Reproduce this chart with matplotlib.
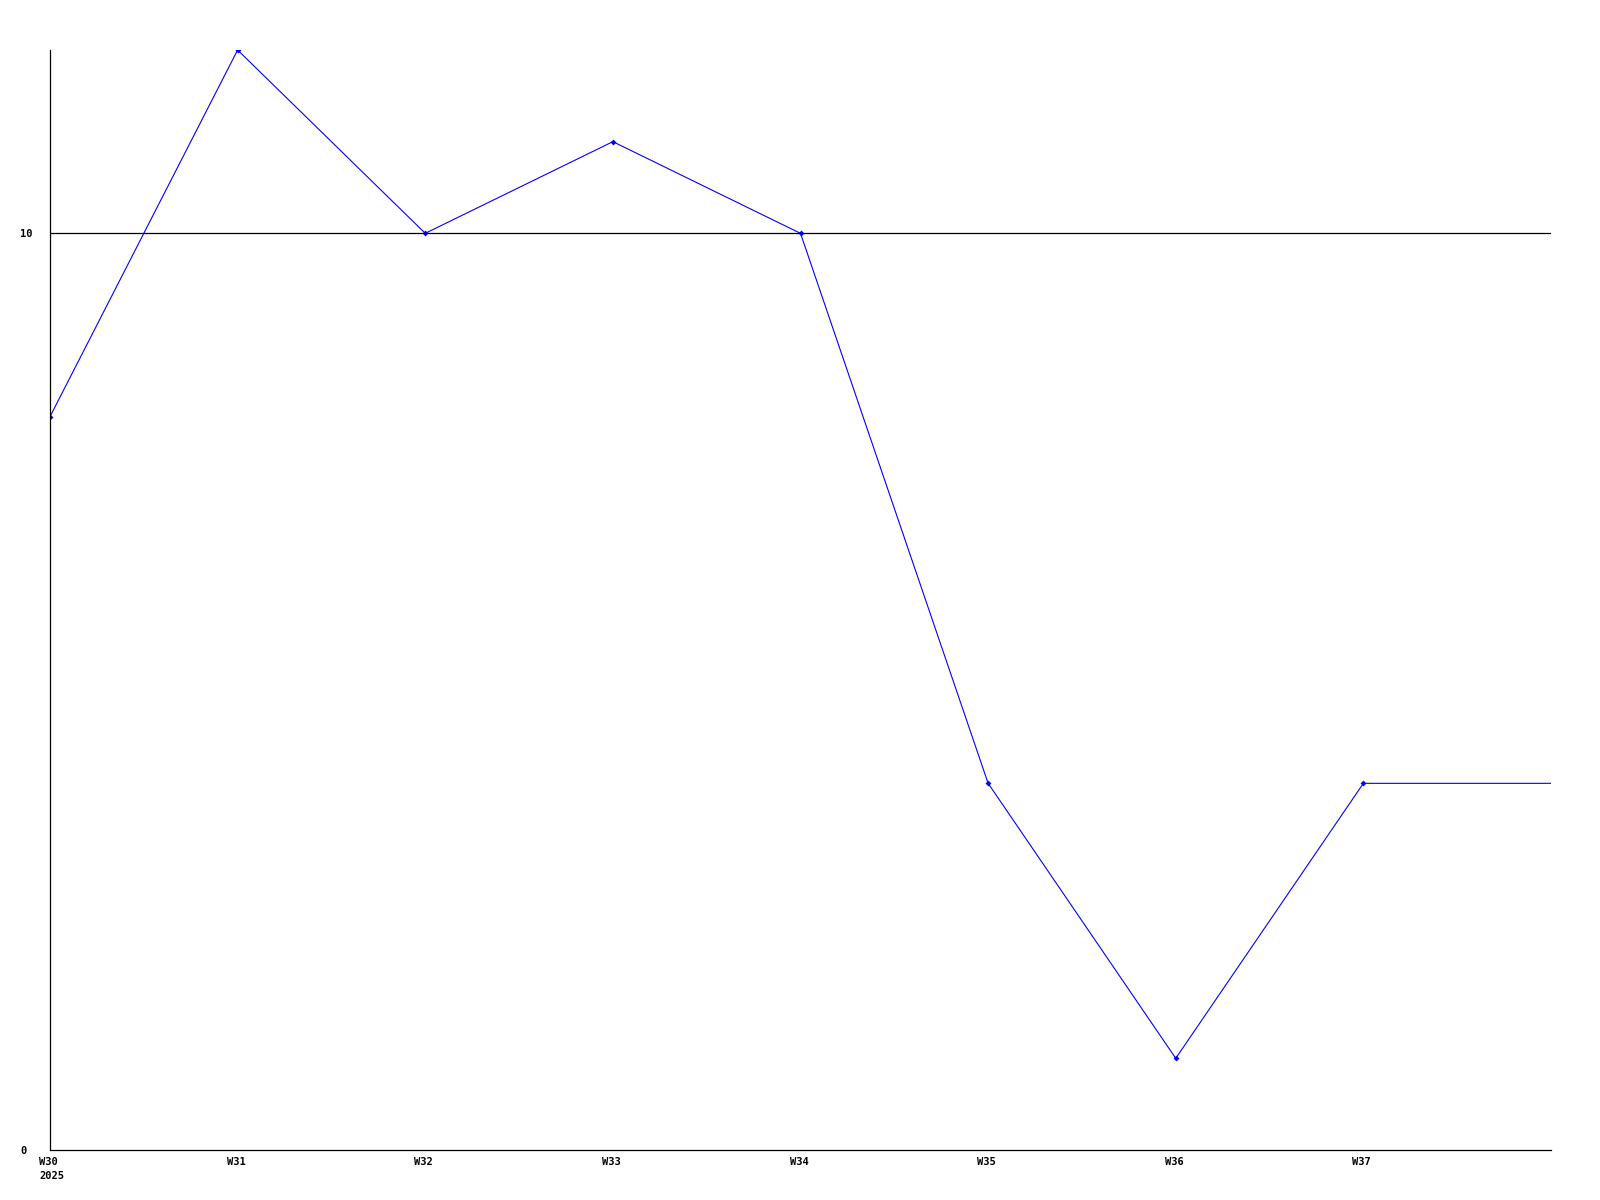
import matplotlib
matplotlib.use("Agg")
import matplotlib.pyplot as plt
import matplotlib.transforms as mtransforms

# data
weeks = ["W30\n2025", "W31", "W32", "W33", "W34", "W35", "W36", "W37"]
week_pos = [0, 1, 2, 3, 4, 5, 6, 7]
values = [8, 12, 10, 11, 10, 4, 1, 4]
# line carries on flat to the right edge
edge_pos = 8
edge_value = 4
ref_level = 10

fig = plt.figure(figsize=(16, 12), dpi=100)
ax = fig.add_axes([50 / 1600, 50 / 1200, (1551 - 50) / 1600, (1150 - 50) / 1200])

ax.plot(week_pos + [edge_pos], values + [edge_value], color="#0000ff", lw=0.8)
ax.plot(week_pos, values, "D", color="#0000ff", ms=3, mew=0)
ax.axhline(ref_level, color="black", lw=0.9)

ax.set_xlim(0, 8)
ax.set_ylim(0, 12)
ax.set_xticks(week_pos)
ax.set_xticklabels(weeks, ha="left", va="top", linespacing=1.5)
ax.set_yticks([0, 10])
ax.set_yticklabels(["0", "10"], ha="left")
ax.tick_params(length=0, labelsize=7.5, pad=5)
ax.tick_params(axis="y", pad=21.5)

# x labels sit a bit left of their week
shift = mtransforms.ScaledTranslation(-11 / 100, 0, fig.dpi_scale_trans)
for lab in ax.get_xticklabels():
    lab.set_transform(lab.get_transform() + shift)
for lab in ax.get_xticklabels() + ax.get_yticklabels():
    lab.set_family("DejaVu Sans Mono")
    lab.set_fontweight("bold")

for s in ["top", "right"]:
    ax.spines[s].set_visible(False)
for s in ["left", "bottom"]:
    ax.spines[s].set_linewidth(0.9)

fig.savefig("out.png", dpi=100)
